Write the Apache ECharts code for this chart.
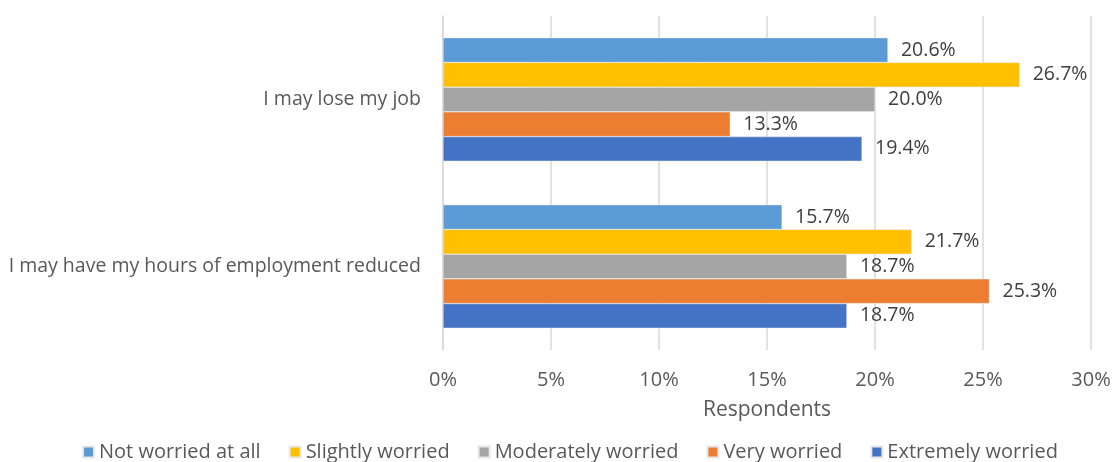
<!DOCTYPE html>
<html>
<head>
<meta charset="utf-8">
<script src="https://cdn.jsdelivr.net/npm/echarts@6/dist/echarts.min.js"></script>
<style>
  html, body { margin: 0; padding: 0; background: #fff; }
  #chart { width: 1114px; height: 462px; }
</style>
</head>
<body>
<div id="chart"></div>
<script>
// categories top to bottom
var categories = ['I may lose my job', 'I may have my hours of employment reduced'];
var seriesNames = ['Not worried at all', 'Slightly worried', 'Moderately worried', 'Very worried', 'Extremely worried'];
var colors = ['#5B9BD5', '#FFC000', '#A5A5A5', '#ED7D31', '#4472C4'];
// values per series, in category order
var notWorried = [20.6, 15.7];
var slightly = [26.7, 21.7];
var moderately = [20.0, 18.7];
var very = [13.3, 25.3];
var extremely = [19.4, 18.7];
var xTicks = [0, 5, 10, 15, 20, 25, 30];

var allValues = [notWorried, slightly, moderately, very, extremely];
var font = 'Open Sans';
var chart = echarts.init(document.getElementById('chart'));

var series = seriesNames.map(function (name, i) {
  return {
    name: name,
    type: 'bar',
    data: allValues[i],
    barGap: '0%',
    barCategoryGap: '26%',
    itemStyle: { color: colors[i], borderColor: '#e8e8e8', borderWidth: 0.5 },
    label: {
      show: true,
      position: 'right',
      distance: 13,
      color: '#404040',
      fontFamily: font,
      fontSize: 19.5,
      formatter: function (p) { return p.value.toFixed(1) + '%'; }
    }
  };
});

var option = {
  animation: false,
  color: colors,
  grid: { left: 443, right: 23, top: 16, bottom: 112, containLabel: false },
  legend: {
    bottom: -5,
    left: 77,
    itemWidth: 11,
    itemHeight: 11,
    itemGap: 28,
    icon: 'rect',
    textStyle: { color: '#595959', fontFamily: font, fontSize: 20 },
    data: seriesNames
  },
  xAxis: {
    type: 'value',
    min: xTicks[0],
    max: xTicks[xTicks.length - 1],
    interval: 5,
    name: 'Respondents',
    nameLocation: 'middle',
    nameGap: 50,
    nameTextStyle: { color: '#595959', fontFamily: font, fontSize: 21 },
    axisLine: { show: false },
    axisTick: { show: false },
    axisLabel: {
      color: '#595959', fontFamily: font, fontSize: 20, margin: 20,
      formatter: function (v) { return v + '%'; }
    },
    splitLine: { lineStyle: { color: '#d9d9d9', width: 1.5 } }
  },
  yAxis: {
    type: 'category',
    inverse: true,
    data: categories,
    axisLine: { show: true, lineStyle: { color: '#d9d9d9', width: 1.5 } },
    axisTick: { show: false },
    axisLabel: { color: '#595959', fontFamily: font, fontSize: 19.5, margin: 22 }
  },
  series: series
};

chart.setOption(option);
</script>
</body>
</html>
